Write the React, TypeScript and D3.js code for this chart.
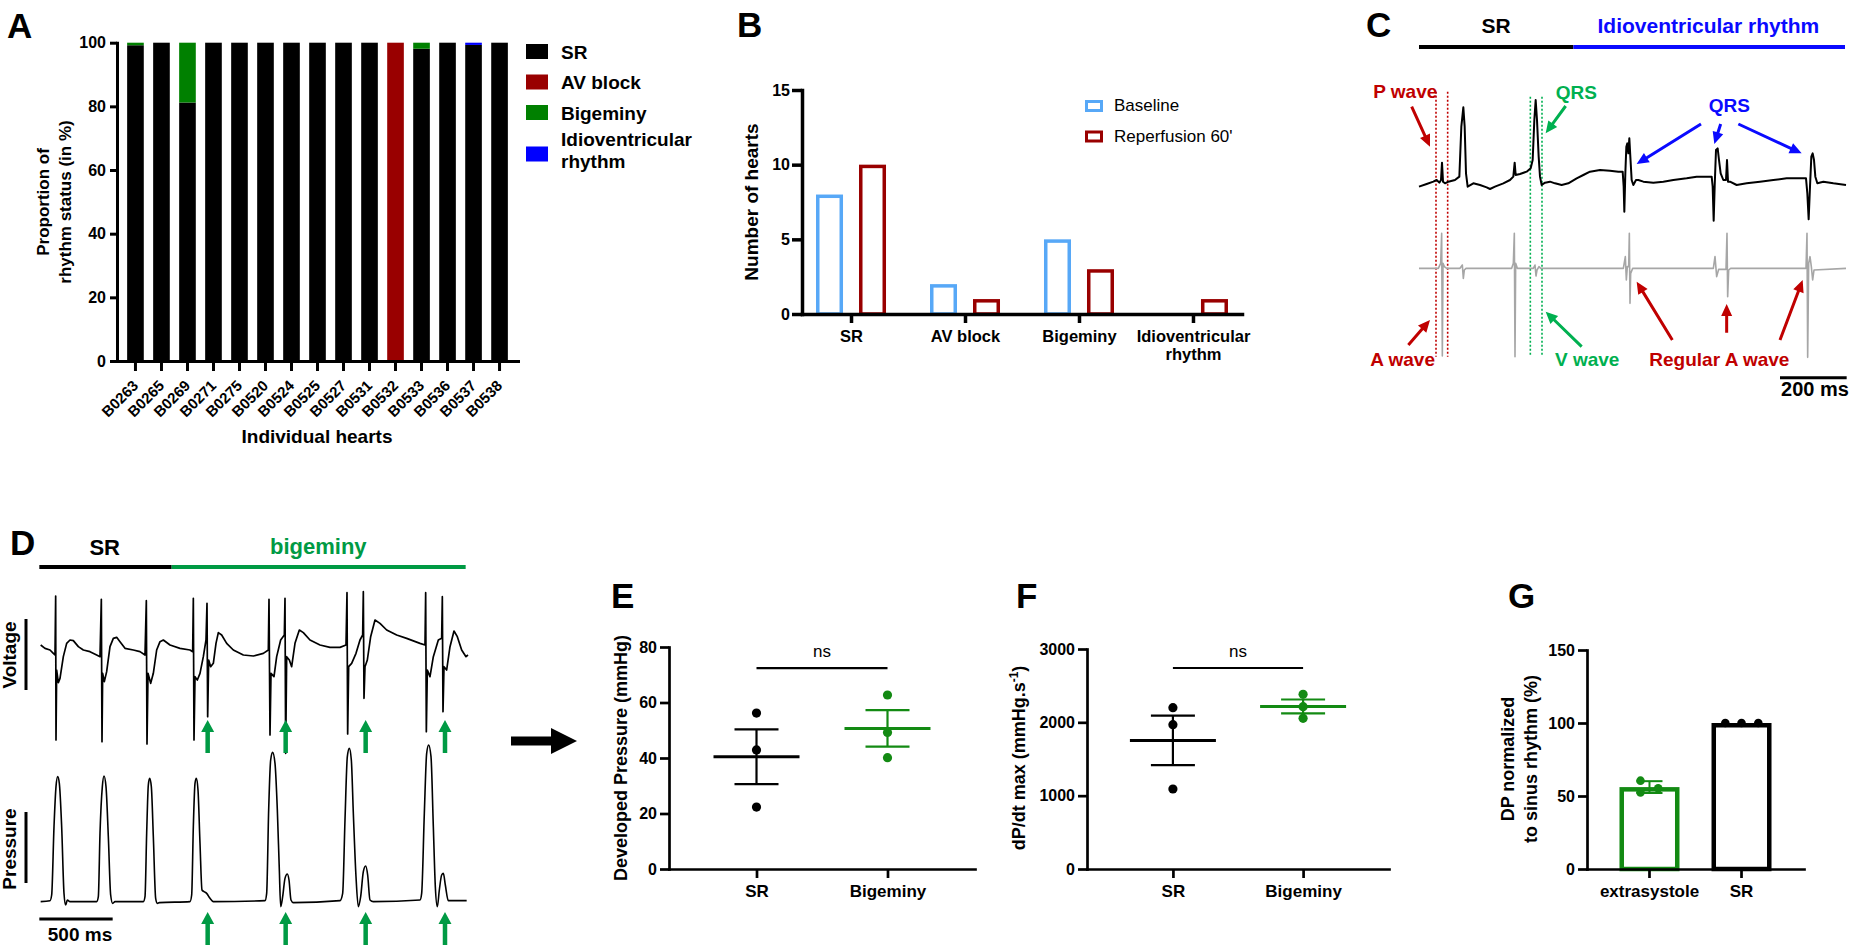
import { useEffect, useRef } from "react";
import * as d3 from "d3";

const FONT = "'Liberation Sans', Arial, Helvetica, sans-serif";
const W = 1852;
const H = 950;

const RED = "#c00000";
const GREEN = "#00b050";
const BLUE = "#0a0aff";
const DGREEN = "#009a44";
const PGREEN = "#138a13";

// ---------- panel A : rhythm share per heart (%)
const hearts = ["B0263", "B0265", "B0269", "B0271", "B0275", "B0520", "B0524", "B0525", "B0527", "B0531", "B0532", "B0533", "B0536", "B0537", "B0538"];
const rhythmKeys = ["SR", "AV block", "Bigeminy", "Idioventricular rhythm"];
const rhythmColors = ["#000000", "#990000", "#008000", "#0000ff"];
const srShare = [99.2, 100, 81.2, 100, 100, 100, 100, 100, 100, 100, 0, 98.1, 100, 99.3, 100];
const avShare = [0, 0, 0, 0, 0, 0, 0, 0, 0, 0, 100, 0, 0, 0, 0];
const bigShare = [0.8, 0, 18.8, 0, 0, 0, 0, 0, 0, 0, 0, 1.9, 0, 0, 0];
const idioShare = [0, 0, 0, 0, 0, 0, 0, 0, 0, 0, 0, 0, 0, 0.7, 0];
const pctTicks = [0, 20, 40, 60, 80, 100];

// ---------- panel B : number of hearts
const conditions = ["Baseline", "Reperfusion 60'"];
const conditionColors = ["#57a8f7", "#990000"];
const baselineCounts = [8, 2, 5, 0];
const reperfCounts = [10, 1, 3, 1];
const countTicks = [0, 5, 10, 15];

// ---------- panel C : ECG traces, [ms, a.u.]
const ecgBlack: [number, number][] = [
  [0, -5], [23, 3], [43, 10], [53, 15], [61, 7], [66, 15], [69, 67], [72, 10], [78, 5], [88, 10], [108, 15], [121, 25],
  [127, 175], [133, 233], [137, 175], [141, 35], [146, -5], [163, 5], [183, 0], [203, -7], [213, -12], [228, -5], [253, 5],
  [273, 15], [283, 25], [287, 67], [290, 30], [303, 33], [323, 40], [335, 50], [341, 75], [346, 195], [350, 255], [354, 195],
  [359, 85], [363, 25], [368, 0], [378, 7], [393, 10], [408, 5], [428, 0], [448, 5], [473, 20], [493, 30], [513, 40], [543, 45],
  [573, 43], [598, 40], [611, 40], [614, -5], [616, -80], [619, 35], [622, 115], [625, 125], [628, 95], [631, 140], [634, 85],
  [638, 15], [643, 0], [651, 15], [658, 15], [673, 10], [703, 7], [733, 10], [763, 15], [803, 20], [833, 25], [858, 25],
  [878, 25], [881, -5], [884, -107], [887, -5], [891, 105], [896, 110], [900, 75], [905, 35], [913, 15], [921, 15], [924, 75],
  [927, 10], [933, 10], [953, 0], [983, 5], [1023, 10], [1063, 15], [1103, 20], [1143, 20], [1161, 20], [1165, -25],
  [1169, -103], [1173, -5], [1177, 85], [1181, 95], [1185, 75], [1189, 25], [1195, 5], [1213, 10], [1243, 5], [1281, 0],
];
const ecgGray: [number, number][] = [
  [0, 0], [58, 0], [65, 15], [68, 105], [70, -263], [72, 15], [76, 5], [83, 0], [123, 0], [130, 10], [133, -30], [136, -5],
  [141, 0], [278, 0], [283, 15], [286, 105], [288, -265], [290, 15], [295, 0], [343, 0], [348, 10], [351, -23], [354, -5],
  [360, 5], [365, 0], [613, 0], [619, 35], [622, -35], [625, 5], [629, 5], [631, 105], [633, -105], [635, -15], [641, 0],
  [883, 0], [888, 35], [893, -25], [899, -3], [921, -3], [924, 105], [926, -85], [929, -5], [935, 0], [1161, 0], [1164, 105],
  [1166, -267], [1169, 15], [1173, 35], [1177, 5], [1181, -35], [1185, -5], [1281, 0],
];
const cLabels = [
  { text: "P wave", t: 55, v: 260, anchor: "end", color: RED },
  { text: "QRS", t: 472, v: 258, anchor: "middle", color: GREEN },
  { text: "QRS", t: 931, v: 220, anchor: "middle", color: BLUE },
  { text: "A wave", t: 48, v: -542, anchor: "end", color: RED },
  { text: "V wave", t: 408, v: -542, anchor: "start", color: GREEN },
  { text: "Regular A wave", t: 691, v: -542, anchor: "start", color: RED },
];
const cArrows = [
  { from: [-22, 235], to: [33, 115], color: RED },
  { from: [440, 237], to: [380, 155], color: GREEN },
  { from: [846, 183], to: [653, 63], color: BLUE },
  { from: [905, 183], to: [886, 123], color: BLUE },
  { from: [958, 183], to: [1148, 95], color: BLUE },
  { from: [-32, -480], to: [33, -405], color: RED },
  { from: [488, -485], to: [380, -380], color: GREEN },
  { from: [760, -465], to: [653, -290], color: RED },
  { from: [923, -443], to: [923, -357], color: RED },
  { from: [1083, -465], to: [1151, -285], color: RED },
];
const cGuides = [
  { t: 51, top: 280, color: RED },
  { t: 86, top: 280, color: RED },
  { t: 334, top: 265, color: GREEN },
  { t: 369, top: 265, color: GREEN },
];

// ---------- panel D : voltage / pressure, [sample @440 Hz, a.u.]
const dVoltage: [number, number][] = [
  [2, 15], [15, 5], [30, 0], [40, -10], [45, -15], [47, 162], [48, -270], [50, -60], [55, -98], [60, -85], [70, -20], [80, 20],
  [90, 30], [100, 28], [115, 10], [130, 0], [150, -5], [170, -15], [180, -20], [184, 152], [186, -275], [188, -70], [193, -95],
  [200, -65], [210, 10], [220, 35], [230, 38], [240, 25], [255, 5], [280, 0], [300, -5], [315, -15], [319, 148], [321, -282],
  [324, -70], [332, -100], [340, -70], [350, 0], [360, 25], [370, 30], [390, 15], [420, 5], [450, 0], [458, -5], [460, 155],
  [462, -270], [465, -80], [472, -90], [480, -70], [490, -20], [498, 30], [501, 140], [503, -200], [506, -30], [512, -50],
  [520, -40], [528, 20], [535, 52], [545, 45], [560, 20], [580, 0], [610, -15], [640, -18], [670, -10], [685, 0], [687, 152],
  [690, -255], [693, -70], [702, -80], [710, -20], [722, 30], [733, 45], [735, 155], [737, -310], [740, -20], [748, -30],
  [755, -50], [765, 20], [778, 60], [790, 52], [810, 30], [840, 15], [870, 8], [900, 8], [918, 15], [921, 172], [923, -252],
  [926, -50], [935, -40], [948, -10], [960, 30], [968, 45], [970, 175], [972, -145], [975, -50], [982, -30], [992, 40],
  [1005, 90], [1020, 80], [1040, 60], [1070, 45], [1100, 35], [1140, 20], [1155, 15], [1157, 172], [1159, -245], [1162, -60],
  [1170, -80], [1180, -20], [1195, 30], [1205, 35], [1207, 160], [1209, -185], [1212, -50], [1220, -60], [1230, 10],
  [1242, 57], [1252, 40], [1265, 0], [1278, -20], [1284, -15],
];
const dPressure: [number, number][] = [
  [2, 0], [30, 3], [35, 20], [42, 225], [48, 345], [53, 375], [58, 355], [65, 225], [72, 25], [77, -10], [82, 5], [90, 0],
  [170, 0], [175, 15], [180, 205], [187, 345], [192, 377], [198, 345], [205, 195], [212, 20], [218, -5], [225, 0], [310, 0],
  [315, 15], [320, 205], [325, 350], [329, 370], [334, 345], [340, 195], [347, 10], [352, -5], [358, -3], [450, 0], [455, 20],
  [460, 225], [465, 355], [469, 370], [474, 335], [480, 175], [486, 35], [492, 30], [500, 25], [510, 10], [520, 0], [675, 3],
  [680, 25], [686, 275], [692, 425], [698, 448], [705, 415], [712, 275], [718, 95], [722, -15], [728, 15], [735, 70],
  [742, 83], [747, 65], [753, 5], [760, -3], [900, 3], [908, 25], [915, 245], [922, 435], [928, 460], [934, 425], [940, 265],
  [948, 75], [955, -15], [962, 15], [970, 90], [977, 107], [983, 80], [990, 5], [1000, 0], [1140, 5], [1145, 25], [1153, 265],
  [1160, 445], [1166, 470], [1173, 435], [1180, 225], [1186, 45], [1192, -15], [1198, 35], [1205, 80], [1210, 85], [1216, 50],
  [1225, 3], [1280, 3],
];
const dExtraBeats = [503, 737, 977, 1215];
const dSrEnd = 395;
const dTraceEnd = 1277;

// ---------- panels E, F, G
const groupsEF = ["SR", "Bigeminy"];
const dpSR = [56.2, 42.9, 22.3];
const dpBig = [62.7, 49.2, 40.1];
const dpTicks = [0, 20, 40, 60, 80];
const dpdtSR = [2200, 1968, 1091];
const dpdtBig = [2382, 2213, 2055];
const dpdtTicks = [0, 1000, 2000, 3000];
const groupsG = ["extrasystole", "SR"];
const normExtra = [60.5, 55.3, 52.5];
const normSR = [100, 100, 100];
const normJitter = [[-0.15, 0.145, -0.15], [-0.27, 0, 0.28]];
const normTicks = [0, 50, 100, 150];

function arrowPath(x1: number, y1: number, x2: number, y2: number, shaft: number, headL: number, headW: number) {
  const L = Math.hypot(x2 - x1, y2 - y1);
  const ux = (x2 - x1) / L, uy = (y2 - y1) / L;
  const px = -uy, py = ux;
  const bx = x2 - ux * headL, by = y2 - uy * headL;
  const s = shaft / 2, h = headW / 2;
  const pts: [number, number][] = [
    [x1 + px * s, y1 + py * s], [bx + px * s, by + py * s], [bx + px * h, by + py * h], [x2, y2],
    [bx - px * h, by - py * h], [bx - px * s, by - py * s], [x1 - px * s, y1 - py * s],
  ];
  return d3.line()(pts) + "Z";
}

type AxisProps = {
  scale: any; orient: "left" | "bottom"; x?: number; y?: number; ticks?: any[];
  size?: number; pad?: number; font?: number; sw?: number; rotate?: boolean; wrap?: Record<string, string[]>;
};

function Axis({ scale, orient, x = 0, y = 0, ticks, size = 8, pad = 3, font = 16, sw = 3, rotate = false, wrap }: AxisProps) {
  const ref = useRef<SVGGElement>(null);
  useEffect(() => {
    if (!ref.current) return;
    const ax = orient === "left" ? d3.axisLeft(scale) : d3.axisBottom(scale);
    ax.tickSizeOuter(0).tickSizeInner(size).tickPadding(pad);
    if (ticks) ax.tickValues(ticks);
    if (orient === "left") (ax as any).tickFormat(d3.format("d"));
    const g = d3.select(ref.current);
    g.selectAll("*").remove();
    g.call(ax as any);
    g.attr("font-family", FONT).attr("font-size", font).attr("font-weight", "bold");
    g.select(".domain").attr("stroke", "#000").attr("stroke-width", sw).attr("stroke-linecap", "square");
    g.selectAll(".tick line").attr("stroke", "#000").attr("stroke-width", sw);
    const txt = g.selectAll<SVGTextElement, any>(".tick text").attr("fill", "#000");
    if (rotate) {
      txt.attr("x", 0).attr("y", 0).attr("dy", "0.35em")
        .attr("transform", `translate(0,${size + pad}) rotate(-45)`)
        .attr("text-anchor", "end");
    }
    if (wrap) {
      txt.each(function (d: any) {
        const lines = wrap[d];
        if (!lines) return;
        const t = d3.select(this);
        t.text(null).attr("dy", null);
        lines.forEach((l, i) => t.append("tspan").attr("x", 0).attr("dy", i === 0 ? "0.71em" : "1.1em").text(l));
      });
    }
  });
  return <g ref={ref} transform={`translate(${x},${y})`} />;
}

const bold = { fontFamily: FONT, fontWeight: 700 } as const;

function PanelA() {
  const rows = hearts.map((h, i) => ({
    heart: h, SR: srShare[i], "AV block": avShare[i], Bigeminy: bigShare[i], "Idioventricular rhythm": idioShare[i],
  }));
  const series = d3.stack<any>().keys(rhythmKeys)(rows);
  const x = d3.scaleBand().domain(hearts).range([117, 518]).paddingInner(0.36).paddingOuter(0.39);
  const y = d3.scaleLinear().domain([0, 100]).range([361, 42.7]);
  const legendTop = [44, 74.5, 105, 146.5];
  return (
    <g>
      <text x={7} y={38} fontSize={35} {...bold}>A</text>
      {series.map((s, k) =>
        s.map((d, i) =>
          d[1] > d[0] ? (
            <rect key={`${k}-${i}`} x={x(hearts[i])} y={y(d[1])} width={x.bandwidth()} height={y(d[0]) - y(d[1])} fill={rhythmColors[k]} />
          ) : null
        )
      )}
      <Axis scale={y} orient="left" x={117} ticks={pctTicks} size={7} pad={4} font={16} />
      <Axis scale={x} orient="bottom" y={361} size={10} pad={12} font={15} rotate />
      <text transform="translate(49,202) rotate(-90)" textAnchor="middle" fontSize={17} {...bold}>Proportion of</text>
      <text transform="translate(71,202) rotate(-90)" textAnchor="middle" fontSize={17} {...bold}>rhythm status (in %)</text>
      <text x={317} y={443} textAnchor="middle" fontSize={19} {...bold}>Individual hearts</text>
      {rhythmKeys.map((k, i) => (
        <g key={k}>
          <rect x={526} y={legendTop[i]} width={22} height={15} fill={rhythmColors[i]} />
          {k === "Idioventricular rhythm" ? (
            <text x={561} y={legendTop[i] - 0.5} fontSize={19} {...bold}>
              <tspan x={561}>Idioventricular</tspan>
              <tspan x={561} dy={22}>rhythm</tspan>
            </text>
          ) : (
            <text x={561} y={legendTop[i] + 14.5} fontSize={19} {...bold}>{k}</text>
          )}
        </g>
      ))}
    </g>
  );
}

function PanelB() {
  const x = d3.scalePoint().domain(rhythmKeys).range([802, 1242]).padding(0.43);
  const sub = d3.scaleBand().domain(conditions).range([-35, 35]).paddingInner(0.372);
  const y = d3.scaleLinear().domain([0, 15]).range([314, 90]);
  const sw = 3.5;
  const sets = [baselineCounts, reperfCounts];
  return (
    <g>
      <text x={737} y={37} fontSize={35} {...bold}>B</text>
      {sets.map((vals, k) =>
        vals.map((v, i) =>
          v > 0 ? (
            <rect key={`${k}-${i}`} x={(x(rhythmKeys[i]) as number) + (sub(conditions[k]) as number) + sw / 2}
              y={y(v) + sw / 2} width={sub.bandwidth() - sw} height={y(0) - y(v) - sw / 2}
              fill="none" stroke={conditionColors[k]} strokeWidth={sw} />
          ) : null
        )
      )}
      <Axis scale={y} orient="left" x={802} ticks={countTicks} size={10} pad={2} font={16} sw={3.5} />
      <Axis scale={x} orient="bottom" y={314} size={9} pad={7} font={16.5} sw={3.5}
        wrap={{ "Idioventricular rhythm": ["Idioventricular", "rhythm"] }} />
      <text transform="translate(758,202) rotate(-90)" textAnchor="middle" fontSize={19} {...bold}>Number of hearts</text>
      {conditions.map((c, i) => (
        <g key={c}>
          <rect x={1086.5} y={101.5 + i * 30.5} width={15} height={9} fill="none" stroke={conditionColors[i]} strokeWidth={3} />
          <text x={1114} y={111 + i * 30.5} fontSize={17} fontFamily={FONT}>{c}</text>
        </g>
      ))}
    </g>
  );
}

function PanelC() {
  const x = d3.scaleLinear().domain([0, 1281]).range([1419, 1846]);
  const yb = d3.scaleLinear().domain([0, 300]).range([185, 85]);
  const yg = d3.scaleLinear().domain([0, 300]).range([268.33, 168.33]);
  const lineB = d3.line<[number, number]>().x((d) => x(d[0])).y((d) => yb(d[1]));
  const lineG = d3.line<[number, number]>().x((d) => x(d[0])).y((d) => yg(d[1]));
  return (
    <g>
      <text x={1366} y={37} fontSize={35} {...bold}>C</text>
      <text x={x(231)} y={yb(455)} textAnchor="middle" fontSize={21} {...bold}>SR</text>
      <text x={x(868)} y={yb(455)} textAnchor="middle" fontSize={21} fill={BLUE} {...bold}>Idioventricular rhythm</text>
      <line x1={x(0)} x2={x(463)} y1={yb(414)} y2={yb(414)} stroke="#000" strokeWidth={4} />
      <line x1={x(463)} x2={x(1278)} y1={yb(414)} y2={yb(414)} stroke={BLUE} strokeWidth={4} />
      {cGuides.map((g, i) => (
        <line key={i} x1={x(g.t)} x2={x(g.t)} y1={yb(g.top)} y2={yb(-515)} stroke={g.color} strokeWidth={1.6} strokeDasharray="2 2" />
      ))}
      <path d={lineG(ecgGray) ?? ""} fill="none" stroke="#a6a6a6" strokeWidth={1.6} strokeLinejoin="round" />
      <path d={lineB(ecgBlack) ?? ""} fill="none" stroke="#000" strokeWidth={2} strokeLinejoin="round" />
      {cArrows.map((a, i) => (
        <path key={i} d={arrowPath(x(a.from[0]), yb(a.from[1]), x(a.to[0]), yb(a.to[1]), 3, 12, 11)} fill={a.color} />
      ))}
      {cLabels.map((l, i) => (
        <text key={i} x={x(l.t)} y={yb(l.v)} textAnchor={l.anchor as any} fontSize={19} fill={l.color} {...bold}>{l.text}</text>
      ))}
      <line x1={x(1083)} x2={x(1283)} y1={yb(-578)} y2={yb(-578)} stroke="#000" strokeWidth={3} />
      <text x={x(1188)} y={yb(-632)} textAnchor="middle" fontSize={20} {...bold}>200 ms</text>
    </g>
  );
}

function PanelD() {
  const x = d3.scaleLinear().domain([0, 1285]).range([40, 468.33]);
  const yv = d3.scaleLinear().domain([0, 300]).range([650, 550]);
  const yp = d3.scaleLinear().domain([0, 300]).range([901.67, 801.67]);
  const lineV = d3.line<[number, number]>().x((d) => x(d[0])).y((d) => yv(d[1]));
  const lineP = d3.line<[number, number]>().x((d) => x(d[0])).y((d) => yp(d[1])).curve(d3.curveMonotoneX);
  return (
    <g>
      <text x={10} y={555} fontSize={35} {...bold}>D</text>
      <text x={x(194)} y={555} textAnchor="middle" fontSize={22} {...bold}>SR</text>
      <text x={x(835)} y={554} textAnchor="middle" fontSize={22} fill={DGREEN} {...bold}>bigeminy</text>
      <line x1={x(-2)} x2={x(dSrEnd)} y1={567} y2={567} stroke="#000" strokeWidth={4} />
      <line x1={x(dSrEnd)} x2={x(dTraceEnd)} y1={567} y2={567} stroke={DGREEN} strokeWidth={4} />
      <path d={lineV(dVoltage) ?? ""} fill="none" stroke="#000" strokeWidth={1.7} strokeLinejoin="round" />
      <path d={lineP(dPressure) ?? ""} fill="none" stroke="#000" strokeWidth={1.6} />
      <text transform="translate(16,655) rotate(-90)" textAnchor="middle" fontSize={19} {...bold}>Voltage</text>
      <line x1={26} x2={26} y1={619} y2={690} stroke="#000" strokeWidth={3} />
      <text transform="translate(16,849) rotate(-90)" textAnchor="middle" fontSize={19} {...bold}>Pressure</text>
      <line x1={26} x2={26} y1={812} y2={883} stroke="#000" strokeWidth={3} />
      <line x1={x(-2)} x2={x(218)} y1={919} y2={919} stroke="#000" strokeWidth={3} />
      <text x={x(120)} y={941} textAnchor="middle" fontSize={19} {...bold}>500 ms</text>
      {dExtraBeats.map((s) => (
        <g key={s}>
          <path d={arrowPath(x(s), 753, x(s), 720, 4.5, 12, 13)} fill={DGREEN} />
          <path d={arrowPath(x(s), 945, x(s), 912, 4.5, 12, 13)} fill={DGREEN} />
        </g>
      ))}
    </g>
  );
}

type MeanPanelProps = {
  letter: string; letterX: number; xRange: [number, number]; pad: number; yMax: number; yTop: number;
  ticks: number[]; values: number[][]; title: any; titleX: number; nsValue: number;
};

function MeanSemPanel({ letter, letterX, xRange, pad, yMax, yTop, ticks, values, title, titleX, nsValue }: MeanPanelProps) {
  const x = d3.scalePoint().domain(groupsEF).range(xRange).padding(pad);
  const y = d3.scaleLinear().domain([0, yMax]).range([869, yTop]);
  const colors = ["#000000", PGREEN];
  const cx = groupsEF.map((g) => x(g) as number);
  return (
    <g>
      <text x={letterX} y={608} fontSize={35} {...bold}>{letter}</text>
      {values.map((vals, k) => {
        const m = d3.mean(vals) as number;
        const sem = (d3.deviation(vals) as number) / Math.sqrt(vals.length);
        const c = colors[k];
        return (
          <g key={k}>
            {vals.map((v, i) => <circle key={i} cx={cx[k]} cy={y(v)} r={4.6} fill={c} />)}
            <line x1={cx[k] - 43} x2={cx[k] + 43} y1={y(m)} y2={y(m)} stroke={c} strokeWidth={3} />
            <line x1={cx[k]} x2={cx[k]} y1={y(m - sem)} y2={y(m + sem)} stroke={c} strokeWidth={2.2} />
            <line x1={cx[k] - 22} x2={cx[k] + 22} y1={y(m + sem)} y2={y(m + sem)} stroke={c} strokeWidth={2.2} />
            <line x1={cx[k] - 22} x2={cx[k] + 22} y1={y(m - sem)} y2={y(m - sem)} stroke={c} strokeWidth={2.2} />
          </g>
        );
      })}
      <Axis scale={y} orient="left" x={xRange[0]} ticks={ticks} size={9} pad={3} font={16} sw={2.7} />
      <Axis scale={x} orient="bottom" y={869} size={9} pad={7} font={17} sw={2.7} />
      <text transform={`translate(${titleX},758) rotate(-90)`} textAnchor="middle" fontSize={18} {...bold}>{title}</text>
      <line x1={cx[0]} x2={cx[1]} y1={y(nsValue)} y2={y(nsValue)} stroke="#000" strokeWidth={2.2} />
      <text x={(cx[0] + cx[1]) / 2} y={y(nsValue) - 11} textAnchor="middle" fontSize={17} fontFamily={FONT}>ns</text>
    </g>
  );
}

function PanelG() {
  const x = d3.scaleBand().domain(groupsG).range([1587, 1804]).paddingInner(0.348).paddingOuter(0.353);
  const y = d3.scaleLinear().domain([0, 150]).range([869, 650]);
  const sets = [normExtra, normSR];
  const colors = [PGREEN, "#000000"];
  const sw = 4.5;
  const bw = x.bandwidth();
  return (
    <g>
      <text x={1508} y={608} fontSize={35} {...bold}>G</text>
      {sets.map((vals, k) => {
        const m = d3.mean(vals) as number;
        const sd = d3.deviation(vals) ?? 0;
        const x0 = x(groupsG[k]) as number;
        const cx = x0 + bw / 2;
        return (
          <g key={k}>
            <rect x={x0 + sw / 2} y={y(m) + sw / 2} width={bw - sw} height={y(0) - y(m) - sw / 2}
              fill="none" stroke={colors[k]} strokeWidth={sw} />
            {sd > 0 ? (
              <g stroke={colors[k]} strokeWidth={2}>
                <line x1={cx} x2={cx} y1={y(m - sd)} y2={y(m + sd)} />
                <line x1={cx - 13} x2={cx + 13} y1={y(m + sd)} y2={y(m + sd)} />
                <line x1={cx - 13} x2={cx + 13} y1={y(m - sd)} y2={y(m - sd)} />
              </g>
            ) : null}
            {vals.map((v, i) => <circle key={i} cx={cx + normJitter[k][i] * bw} cy={y(v)} r={4.3} fill={colors[k]} />)}
          </g>
        );
      })}
      <Axis scale={y} orient="left" x={1587} ticks={normTicks} size={9} pad={3} font={16} sw={2.7} />
      <Axis scale={x} orient="bottom" y={869} size={9} pad={7} font={17} sw={2.7} />
      <text transform="translate(1514,759) rotate(-90)" textAnchor="middle" fontSize={18} {...bold}>DP normalized</text>
      <text transform="translate(1537,759) rotate(-90)" textAnchor="middle" fontSize={18} {...bold}>to sinus rhythm (%)</text>
    </g>
  );
}

export default function App() {
  return (
    <div style={{ position: "absolute", left: 0, top: 0, width: W, height: H, background: "#fff" }}>
      <svg width={W} height={H} viewBox={`0 0 ${W} ${H}`} style={{ display: "block" }}>
        <rect width={W} height={H} fill="#fff" />
        <PanelA />
        <PanelB />
        <PanelC />
        <PanelD />
        <path d={arrowPath(511, 741, 577, 741, 9, 26, 26)} fill="#000" />
        <MeanSemPanel letter="E" letterX={611} xRange={[669, 975]} pad={0.668} yMax={80} yTop={647} ticks={dpTicks}
          values={[dpSR, dpBig]} title="Developed Pressure (mmHg)" titleX={627} nsValue={72.4} />
        <MeanSemPanel letter="F" letterX={1016} xRange={[1087, 1389]} pad={0.66} yMax={3000} yTop={649} ticks={dpdtTicks}
          values={[dpdtSR, dpdtBig]} titleX={1025} nsValue={2741}
          title={<>dP/dt max (mmHg.s<tspan dy={-7} fontSize={12}>-1</tspan><tspan dy={7}>)</tspan></>} />
        <PanelG />
      </svg>
    </div>
  );
}
